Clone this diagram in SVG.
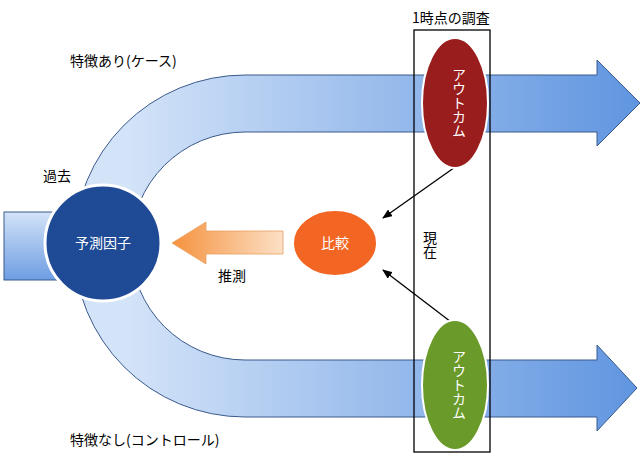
<svg xmlns="http://www.w3.org/2000/svg" width="640" height="458" viewBox="0 0 640 458">
<style>
text{font-family:"Noto Sans CJK JP","Liberation Sans",sans-serif;font-size:14px;fill:#000}
.w{fill:#fff}
.band{stroke:#3a5a8c;stroke-width:1}
</style>
<defs>
<linearGradient id="bg" x1="0" y1="0" x2="640" y2="0" gradientUnits="userSpaceOnUse">
<stop offset="0.2" stop-color="#d3e3f8"/><stop offset="1" stop-color="#5f95e0"/></linearGradient>
<linearGradient id="sg" x1="0" y1="0" x2="0" y2="1"><stop offset="0" stop-color="#d3e3f8"/><stop offset="1" stop-color="#6d9de2"/></linearGradient>
<linearGradient id="og" x1="0" y1="0" x2="1" y2="0"><stop offset="0" stop-color="#f5923e"/><stop offset="1" stop-color="#fce0c6"/></linearGradient>
<marker id="ah" markerWidth="10" markerHeight="8" refX="9" refY="4" orient="auto" markerUnits="userSpaceOnUse"><path d="M0,0L10,4L0,8z" fill="#000"/></marker>
</defs>
<g id="bands">
<rect x="4" y="212" width="60" height="68" fill="url(#sg)" class="band"/>
<path class="band" fill="url(#bg)" d="M245,75 H597 V60 L640,103 L597,146 V132 H245 A114,114 0 0 0 131,246 A114,114 0 0 0 245,360 H597 V345 L637,388 L597,431 V417 H245 A171,171 0 0 1 74,246 A171,171 0 0 1 245,75 Z"/>
</g>
<g id="connectors">
<path d="M283,231 H206 V222 L172,243 L206,264 V254 H283 Z" fill="url(#og)" stroke="#e8a060" stroke-width="0.8"/>
<line x1="458" y1="165" x2="383" y2="218" stroke="#000" stroke-width="1.3" marker-end="url(#ah)"/>
<line x1="455" y1="325" x2="383" y2="270" stroke="#000" stroke-width="1.3" marker-end="url(#ah)"/>
</g>
<g id="frame"><rect x="414" y="30" width="76" height="422" fill="none" stroke="#000" stroke-width="1.3"/></g>
<g id="predictor"><circle cx="103" cy="243" r="58" fill="#1f4a96" stroke="#fff" stroke-width="3"/>
<text class="w" x="103" y="248" text-anchor="middle">予測因子</text></g>
<g id="compare"><ellipse cx="335" cy="243" rx="42" ry="33" fill="#f26522" stroke="#fff" stroke-width="2"/>
<text class="w" x="335" y="248" text-anchor="middle">比較</text></g>
<g id="outcome1"><ellipse cx="455" cy="103" rx="33" ry="65" fill="#9a1d1d" stroke="#fff" stroke-width="2"/>
<text class="w" transform="translate(455,103)" writing-mode="tb" text-anchor="middle" x="0" y="0" dx="4">アウトカム</text></g>
<g id="outcome2"><ellipse cx="455" cy="385" rx="33" ry="65" fill="#6a9a2a" stroke="#fff" stroke-width="2"/>
<text class="w" transform="translate(455,385)" writing-mode="tb" text-anchor="middle" x="0" y="0" dx="4">アウトカム</text></g>
<g id="labels">
<text x="70" y="66">特徴あり(ケース)</text>
<text x="43" y="181">過去</text>
<text x="218" y="281">推測</text>
<text x="70" y="445">特徴なし(コントロール)</text>
<text x="412" y="23">1時点の調査</text>
<text x="430" y="245" writing-mode="tb" text-anchor="middle">現在</text>
</g>
</svg>
